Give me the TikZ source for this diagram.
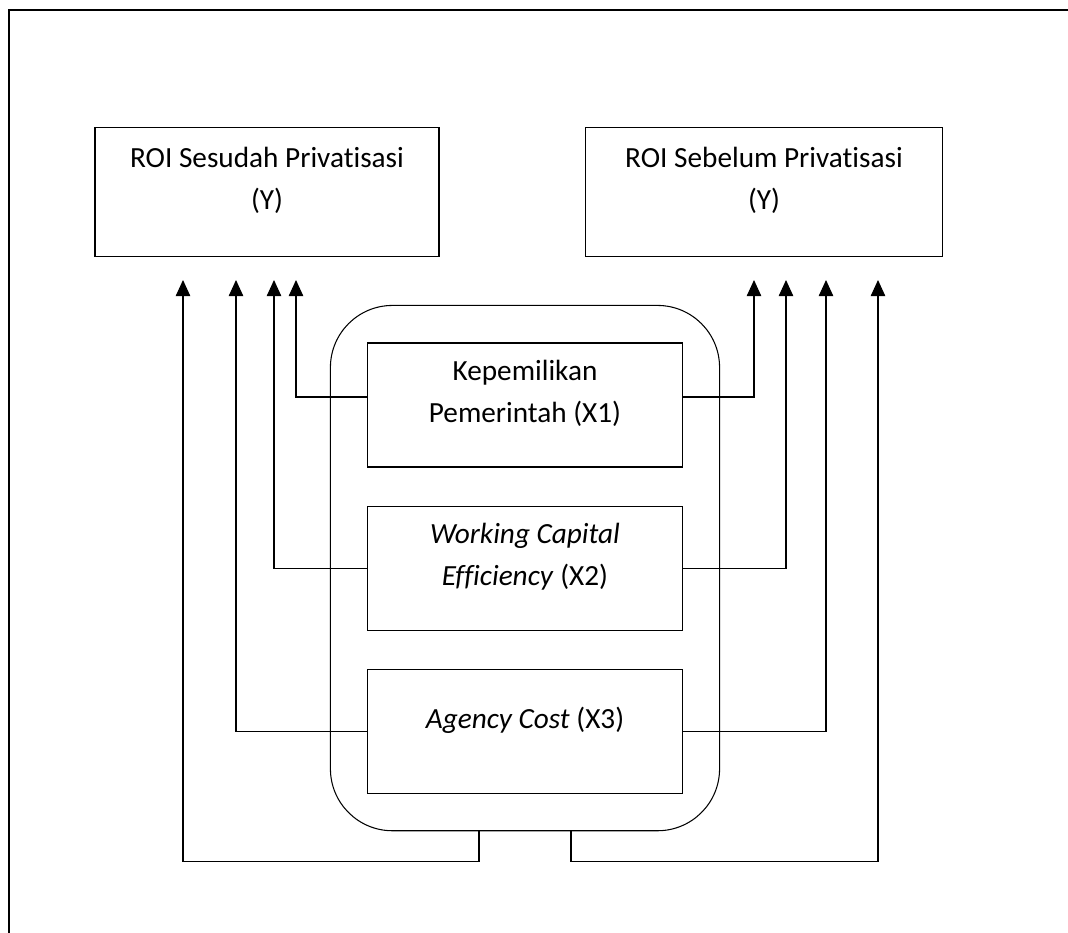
\documentclass[tikz,border=0pt]{standalone}
\usepackage{fontspec}
\setmainfont{Carlito}[Ligatures=NoCommon]
\usetikzlibrary{arrows.meta, positioning, fit}
\tikzset{
	ybox/.style={draw, line width=0.9pt, minimum height=3.225cm, align=center,
		font=\fontsize{20.8}{30}\selectfont},
	xbox/.style={draw, line width=0.75pt, minimum width=7.85cm, minimum height=3.1cm,
		align=center, font=\fontsize{20.8}{30}\selectfont},
	grpbox/.style={draw, line width=0.75pt, rounded corners=1.55cm, inner sep=0.925cm},
	arr/.style={-{Triangle[length=0.4cm, width=0.36cm]}, line width=0.75pt}
}

\begin{document}
\begin{tikzpicture}[x=0.025cm, y=-0.025cm, node distance=0.95cm]
	\useasboundingbox (0,0) rectangle (1068,933);
	\draw[line width=1.3pt] (9,933) -- (9,10) -- (1068,10);

	\node[ybox, minimum width=8.6cm] (sesudah) at (267,192) {ROI Sesudah Privatisasi\\(Y)\\[-11pt]};
	\node[ybox, minimum width=8.925cm] (sebelum) at (764,192) {ROI Sebelum Privatisasi\\(Y)\\[-11pt]};

	\node[xbox] (x1) at (525,405) {Kepemilikan\\Pemerintah (X1)\\[-11pt]};
	\node[xbox, below=of x1] (x2) {\textit{Working Capital}\\\textit{Efficiency} (X2)\\[-11pt]};
	\node[xbox, below=of x2] (x3) {\textit{Agency Cost} (X3)\\[-11pt]};
	\node[grpbox, fit=(x1)(x3)] (grp) {};

	% arrow ends below the two Y boxes
	\coordinate (ss1) at (296,280);
	\coordinate (ss2) at (274,280);
	\coordinate (ss3) at (236,280);
	\coordinate (ss4) at (183,280);
	\coordinate (sb1) at (754,280);
	\coordinate (sb2) at (786,280);
	\coordinate (sb3) at (826,280);
	\coordinate (sb4) at (878,280);

	\draw[arr] ([yshift=0.2cm]x1.west) -| (ss1);
	\draw[arr] ([yshift=0.2cm]x1.east) -| (sb1);
	\draw[arr] (x2.west) -| (ss2);
	\draw[arr] (x2.east) -| (sb2);
	\draw[arr] (x3.west) -| (ss3);
	\draw[arr] (x3.east) -| (sb3);
	\draw[arr] ([xshift=-1.15cm]grp.south) -- ++(0,30) -| (ss4);
	\draw[arr] ([xshift=1.15cm]grp.south) -- ++(0,30) -| (sb4);
\end{tikzpicture}
\end{document}
